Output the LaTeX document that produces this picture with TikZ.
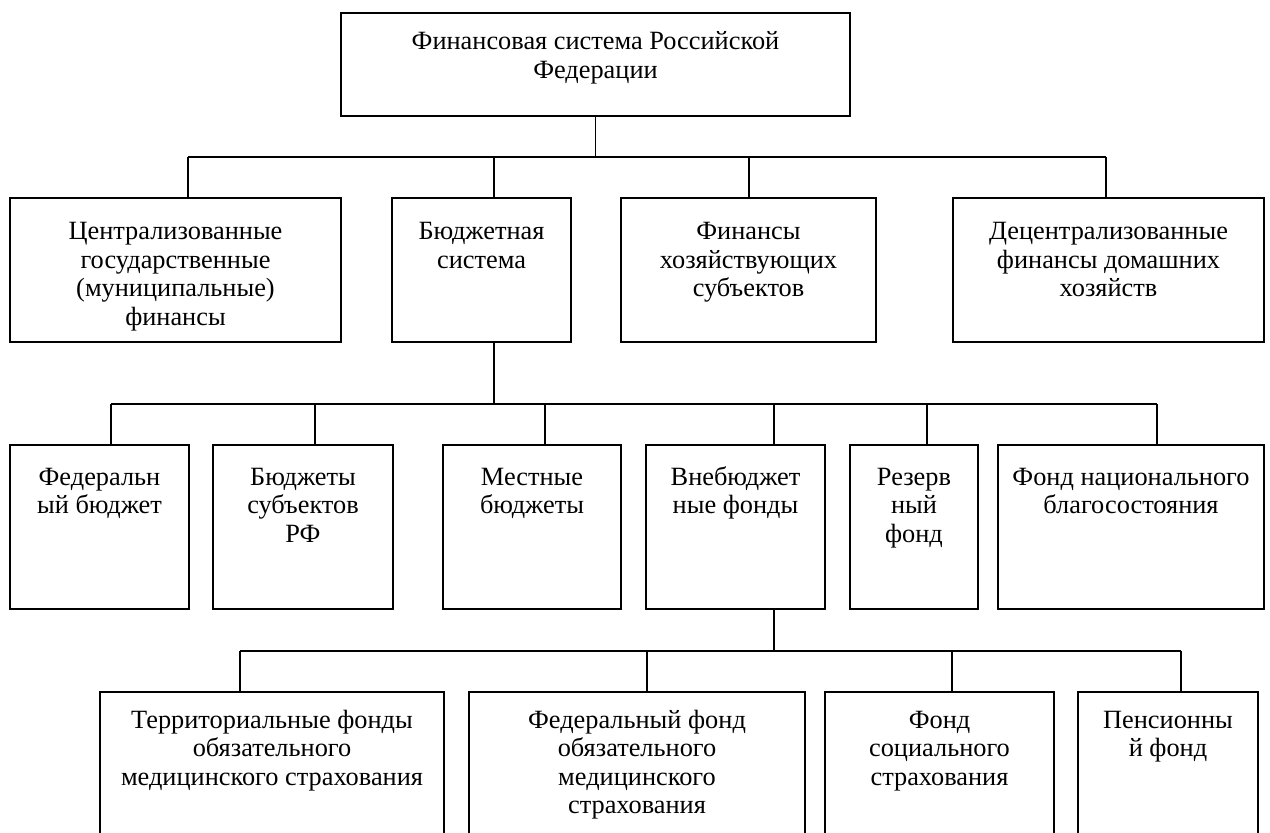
\documentclass[tikz,border=0pt]{standalone}
\usepackage{fontspec}
\setmainfont{Liberation Serif}
\usetikzlibrary{fit}

\tikzset{
  box/.style={draw, line width=1.1pt, inner sep=0pt, fit={#1}},
  txt/.style={anchor=north, align=center, inner sep=0pt, font=\fontsize{15}{16.2}\selectfont},
  link/.style={line width=1.1pt},
}

\begin{document}
\begin{tikzpicture}[x=0.02cm,y=-0.02cm]
\useasboundingbox (0,0) rectangle (1270,832);
% top
\node[box={(341,13) (850,116)}] (fin) {};
\node[txt] (fin-t) at ([yshift=-0.35cm]fin.north) {\strut Финансовая система Российской\\Федерации};
% first level
\node[box={(10,198) (341,342)}] (cgf) {};
\node[box={(392,198) (571,342)}] (bud) {};
\node[box={(621,198) (876,342)}] (fhs) {};
\node[box={(953,198) (1264,342)}] (dfd) {};
\node[txt] (cgf-t) at ([yshift=-0.45cm]cgf.north) {\strut Централизованные\\государственные\\(муниципальные)\\финансы};
\node[txt] (bud-t) at ([yshift=-0.45cm]bud.north) {\strut Бюджетная\\система};
\node[txt] (fhs-t) at ([yshift=-0.45cm]fhs.north) {\strut Финансы\\хозяйствующих\\субъектов};
\node[txt] (dfd-t) at ([yshift=-0.45cm]dfd.north) {\strut Децентрализованные\\финансы домашних\\хозяйств};
% second level
\node[box={(10,445) (189,609)}] (fbud) {};
\node[box={(213,445) (393,609)}] (sbud) {};
\node[box={(443,445) (621,609)}] (mbud) {};
\node[box={(646,445) (825,609)}] (vfond) {};
\node[box={(850,445) (978,609)}] (rfond) {};
\node[box={(998,445) (1264,609)}] (fnb) {};
\node[txt] (fbud-t) at ([yshift=-0.42cm]fbud.north) {\strut Федеральн\\ый бюджет};
\node[txt] (sbud-t) at ([yshift=-0.42cm]sbud.north) {\strut Бюджеты\\субъектов\\РФ};
\node[txt] (mbud-t) at ([yshift=-0.42cm]mbud.north) {\strut Местные\\бюджеты};
\node[txt] (vfond-t) at ([yshift=-0.42cm]vfond.north) {\strut Внебюджет\\ные фонды};
\node[txt] (rfond-t) at ([yshift=-0.42cm]rfond.north) {\strut Резерв\\ный\\фонд};
\node[txt] (fnb-t) at ([yshift=-0.42cm]fnb.north) {\strut Фонд национального\\благосостояния};
% third level
\node[box={(100,692) (444,870)}] (tfoms) {};
\node[box={(469,692) (805,870)}] (ffoms) {};
\node[box={(825,692) (1054,870)}] (fss) {};
\node[box={(1078,692) (1258,870)}] (pfr) {};
\node[txt] (tfoms-t) at ([yshift=-0.34cm]tfoms.north) {\strut Территориальные фонды\\обязательного\\медицинского страхования};
\node[txt] (ffoms-t) at ([yshift=-0.34cm]ffoms.north) {\strut Федеральный фонд\\обязательного\\медицинского\\страхования};
\node[txt] (fss-t) at ([yshift=-0.34cm]fss.north) {\strut Фонд\\социального\\страхования};
\node[txt] (pfr-t) at ([yshift=-0.34cm]pfr.north) {\strut Пенсионны\\й фонд};
% connectors
\coordinate (bus1) at (0,157);
\coordinate (bus2) at (0,404);
\coordinate (bus3) at (0,651);
\draw[link] (fin.south) -- (fin.south |- bus1);
\draw[link] (bus1 -| 188,0) -- (bus1 -| 1106,0);
\foreach \x/\n in {188/cgf,494/bud,749/fhs,1106/dfd}
  \draw[link] (bus1 -| \x,0) -- (\n.north -| \x,0);
\draw[link] (bud.south -| 494,0) -- (bus2 -| 494,0);
\draw[link] (bus2 -| 111,0) -- (bus2 -| 1157,0);
\foreach \x/\n in {111/fbud,315/sbud,545/mbud,774/vfond,927/rfond,1157/fnb}
  \draw[link] (bus2 -| \x,0) -- (\n.north -| \x,0);
\draw[link] (vfond.south -| 774,0) -- (bus3 -| 774,0);
\draw[link] (bus3 -| 240,0) -- (bus3 -| 1181,0);
\foreach \x/\n in {240/tfoms,647/ffoms,952/fss,1181/pfr}
  \draw[link] (bus3 -| \x,0) -- (\n.north -| \x,0);
\end{tikzpicture}
\end{document}
